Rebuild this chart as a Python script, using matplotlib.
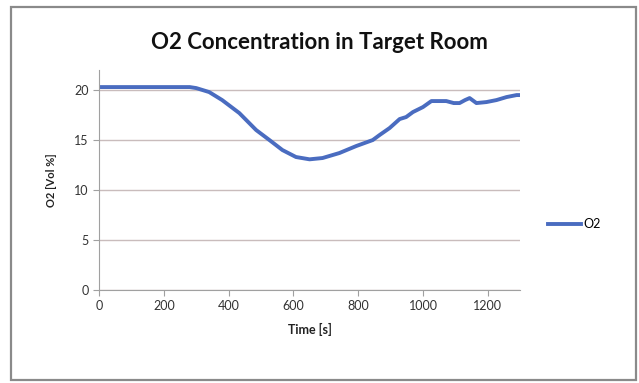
import matplotlib.pyplot as plt
from matplotlib.patches import Rectangle

# O2 concentration readings
time_s = [0, 100, 200, 280, 300, 340, 380, 433, 485, 526, 566, 608, 650,
          690, 742, 794, 845, 866, 897, 928, 948, 969, 1000, 1026, 1050,
          1072, 1095, 1113, 1130, 1144, 1165, 1196, 1227, 1258, 1289, 1300]
o2_vol = [20.3, 20.3, 20.3, 20.3, 20.2, 19.8, 19.0, 17.7, 16.0, 15.0, 14.0,
          13.3, 13.07, 13.2, 13.7, 14.4, 15.0, 15.5, 16.2, 17.1, 17.3, 17.8,
          18.3, 18.9, 18.9, 18.9, 18.7, 18.7, 19.0, 19.2, 18.7, 18.8, 19.0,
          19.3, 19.5, 19.5]

xticks = [0, 200, 400, 600, 800, 1000, 1200]
yticks = [0, 5, 10, 15, 20]

plt.rcParams['font.family'] = ['Lato', 'DejaVu Sans']

fig = plt.figure(figsize=(6.39, 3.83), dpi=100)
fig.patches.append(Rectangle((0.017, 0.008), 0.978, 0.974, transform=fig.transFigure,
                             fill=False, edgecolor='#8a8a8a', linewidth=1.6))

ax = fig.add_axes([0.155, 0.243, 0.659, 0.574])
ax.plot(time_s, o2_vol, color='#4a6cc0', linewidth=2.8, label='O2')

ax.set_xlim(0, 1300)
ax.set_ylim(0, 22)
ax.set_xticks(xticks)
ax.set_yticks(yticks)
ax.grid(axis='y', color='#c9bcbc', linewidth=1)
ax.set_axisbelow(True)
for s in ['top', 'right']:
    ax.spines[s].set_visible(False)
for s in ['left', 'bottom']:
    ax.spines[s].set_color('#a0a0a0')
ax.tick_params(colors='#a0a0a0', labelcolor='#333333', labelsize=9, length=4)

ax.set_xlabel('Time [s]', fontsize=9, fontweight='bold', color='#222222', labelpad=8)
ax.set_ylabel('O2 [Vol %]', fontsize=8, fontweight='bold', color='#222222', labelpad=12)
fig.text(0.5, 0.89, 'O2 Concentration in Target Room', ha='center', va='center',
         fontsize=16, fontweight='bold', color='#111111')

ax.legend(loc='center left', bbox_to_anchor=(1.04, 0.3), frameon=False,
          fontsize=9, handlelength=2.6, handletextpad=0.2)

fig.savefig('out.png', dpi=100)
